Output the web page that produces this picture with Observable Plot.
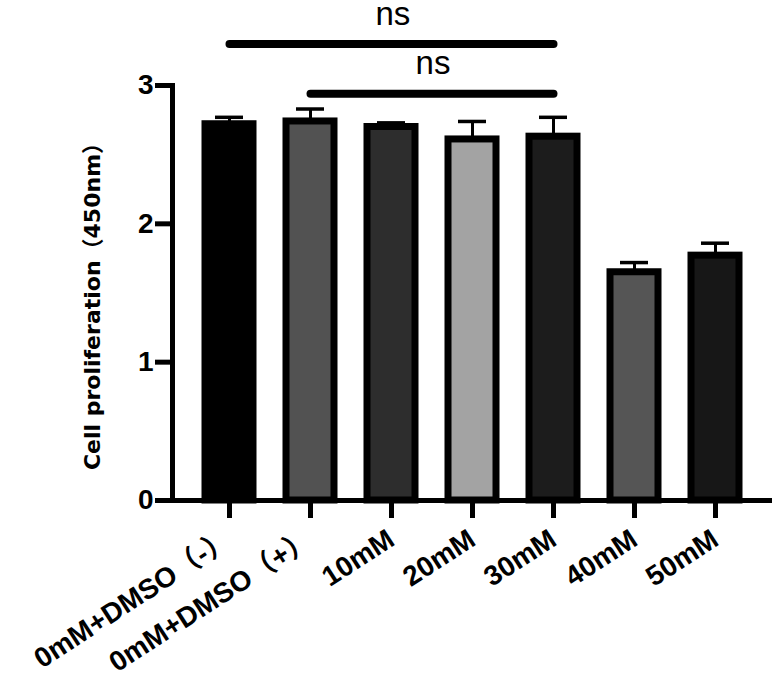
<!DOCTYPE html>
<html><head><meta charset="utf-8">
<script src="https://cdn.jsdelivr.net/npm/d3@7"></script>
<script src="https://cdn.jsdelivr.net/npm/@observablehq/plot@0.6"></script>
<style>body{margin:0;background:#fff} svg{display:block}</style>
</head><body><div id="chart"></div>
<script>
const groups = ["0mM+DMSO（-）", "0mM+DMSO（+）", "10mM", "20mM", "30mM", "40mM", "50mM"];
const means = [2.72, 2.74, 2.70, 2.61, 2.63, 1.65, 1.77];
const errors = [0.05, 0.09, 0.03, 0.13, 0.14, 0.07, 0.09];
const fills = ["#000000", "#525252", "#2d2d2d", "#a3a3a3", "#1c1c1c", "#555555", "#171717"];
const yTicks = [0, 1, 2, 3];
const sigFrom = ["0mM+DMSO（-）", "0mM+DMSO（+）"];
const sigTo = ["30mM", "30mM"];
const sigLevel = [3.30, 2.94];
const sigText = ["ns", "ns"];
const yLabel = "Cell proliferation（450nm）";

const bars = groups.map((g, i) => ({group: g, mean: means[i], err: errors[i], fill: fills[i]}));
const sigs = sigFrom.map((a, i) => ({from: a, to: sigTo[i], level: sigLevel[i], text: sigText[i]}));

const W = 774, H = 683, ML = 172, MR = 2, MT = 85, MB = 183;
const xOpts = {type: "band", domain: groups, paddingInner: 0.412, paddingOuter: 0.38};
const xs = Plot.scale({x: {...xOpts, range: [ML, W - MR]}});
const font = "'Liberation Sans', Arial, 'Noto Sans CJK JP', sans-serif";

const chart = Plot.plot({
  width: W, height: H,
  marginLeft: ML, marginRight: MR, marginTop: MT, marginBottom: MB,
  style: {fontFamily: font, color: "#000", background: "#fff", overflow: "visible"},
  x: {domain: groups, paddingInner: xOpts.paddingInner, paddingOuter: xOpts.paddingOuter},
  y: {domain: [0, 3]},
  color: {type: "identity"},
  marks: [
    Plot.ruleX(bars, {x: "group", y1: "mean", y2: d => d.mean + d.err, stroke: "#000", strokeWidth: 3}),
    Plot.tickY(bars, {x: "group", y: d => d.mean + d.err, stroke: "#000", strokeWidth: 3.5, inset: 10}),
    Plot.barY(bars, {x: "group", y: "mean", fill: "fill", stroke: "#000", strokeWidth: 7}),
    Plot.frame({anchor: "left", stroke: "#000", strokeWidth: 5}),
    Plot.ruleY([0], {stroke: "#000", strokeWidth: 5}),
    Plot.axisY({ticks: yTicks, tickFormat: d => String(d), tickSize: 17, tickPadding: 2, strokeWidth: 5,
      fontSize: 28, fontWeight: "bold", label: null}),
    Plot.axisX({tickSize: 18, tickPadding: 18, tickRotate: -33, strokeWidth: 5, fontSize: 28, fontWeight: "bold", label: null}),
    Plot.text([yLabel], {text: d => d, frameAnchor: "left", textAnchor: "middle", rotate: -90, dx: -80, dy: 8,
      fontSize: 22, fontWeight: "bold", fontFamily: "'DejaVu Sans', 'Noto Sans CJK JP', sans-serif"}),
    Plot.link(sigs, {x1: "from", x2: "to", y1: "level", y2: "level", stroke: "#000", strokeWidth: 8, strokeLinecap: "round"}),
    ...sigs.map(s => Plot.text([s], {x: "from", y: "level", text: "text",
      dx: (xs.apply(s.to) - xs.apply(s.from)) / 2, dy: -30, fontSize: 33}))
  ]
});
document.getElementById("chart").appendChild(chart);
</script>
</body></html>
